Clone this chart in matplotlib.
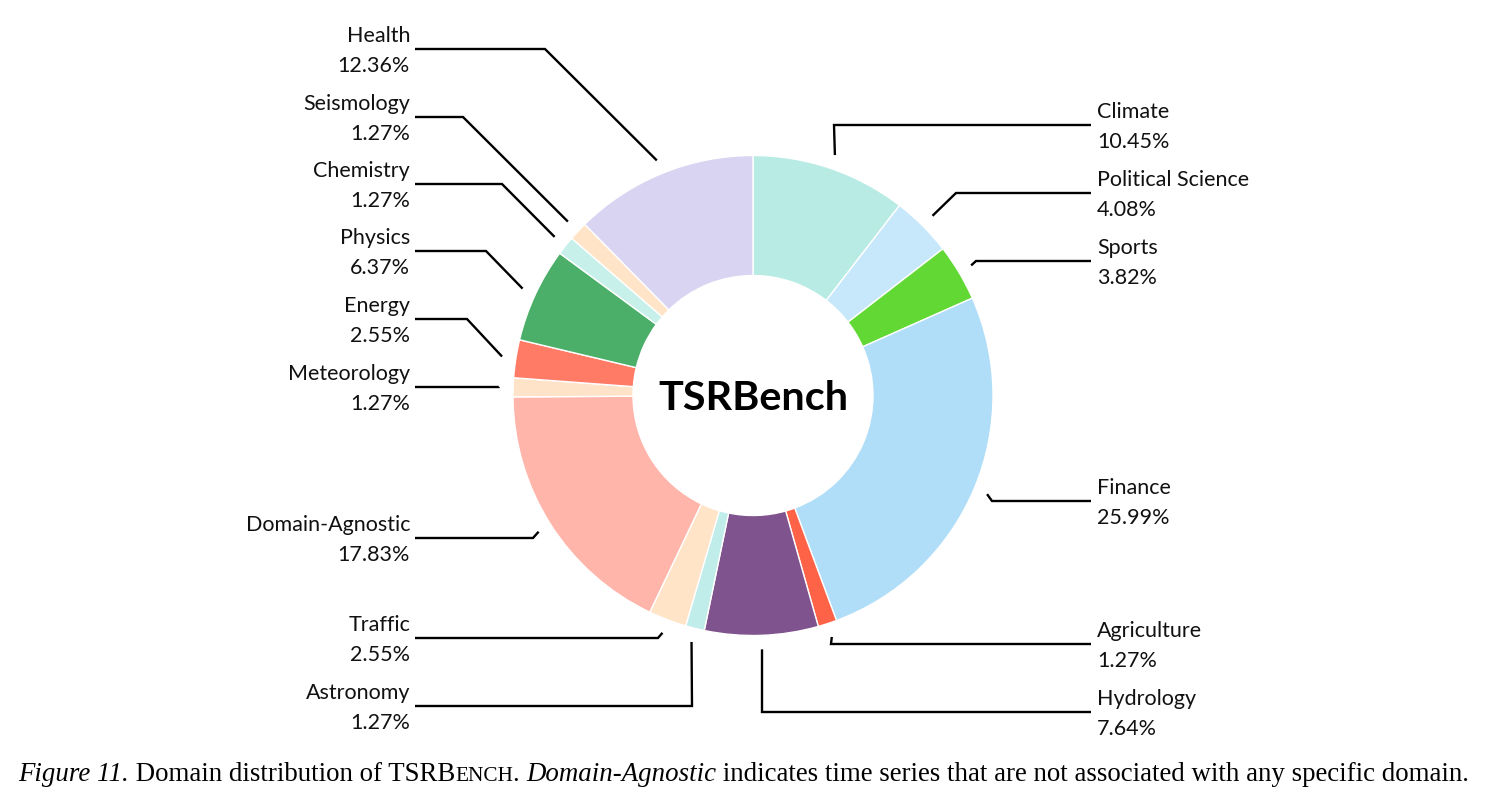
import matplotlib
matplotlib.use("Agg")
import matplotlib.pyplot as plt
import numpy as np

# ── Data ──────────────────────────────────────────────────────────────
DOMAINS = ["Climate", "Political Science", "Sports", "Finance", "Agriculture",
           "Hydrology", "Astronomy", "Traffic", "Domain-Agnostic", "Meteorology",
           "Energy", "Physics", "Chemistry", "Seismology", "Health"]
SHARES = [10.45, 4.08, 3.82, 25.99, 1.27,
          7.64, 1.27, 2.55, 17.83, 1.27,
          2.55, 6.37, 1.27, 1.27, 12.36]
COLORS = ["#b8ebe4", "#c7e7fa", "#62d835", "#b0ddf7", "#ff6347",
          "#7f538e", "#c0ecea", "#ffe4c8", "#ffb5aa", "#ffe3c8",
          "#ff7b66", "#4caf69", "#c8f0ea", "#ffe4c8", "#d8d4f1"]

# ── Layout (pixels, y measured from top) ─────────────────────────────
W, H = 1491, 803
CX, CY = 753, 396.5
R_OUT, R_IN, R_LINE = 240, 120, 254
# knee x of each leader line and the y where its label sits
KNEE_X = [834, 956, 976, 992, 831, 762, 692, 658, 533, 499,
          467, 486, 502, 463, 545]
LABEL_Y = [126, 194, 262, 502, 645, 713, 707, 639, 539, 388,
           320, 252, 185, 118, 50]
RIGHT_END, LEFT_END = 1091, 415
LABEL_FONT = ["Lato", "DejaVu Sans"]


def Y(py):
    return H - py


fig = plt.figure(figsize=(W / 100, H / 100), dpi=100)
ax = fig.add_axes([0, 0, 1, 1])

wedges, _ = ax.pie(SHARES, colors=COLORS, startangle=90, counterclock=False,
                   center=(CX, Y(CY)), radius=R_OUT,
                   wedgeprops=dict(width=R_OUT - R_IN, edgecolor="white", linewidth=1.0))

ax.set_xlim(0, W)
ax.set_ylim(0, H)
ax.set_aspect("equal")
ax.axis("off")

# Leader lines + labels
for i, (w, name, share) in enumerate(zip(wedges, DOMAINS, SHARES)):
    mid = np.deg2rad((w.theta1 + w.theta2) / 2)
    sx = CX + R_LINE * np.cos(mid)
    sy = Y(CY) + R_LINE * np.sin(mid)
    ly = Y(LABEL_Y[i])
    right = i < 6
    ex = RIGHT_END if right else LEFT_END
    ax.plot([sx, KNEE_X[i], ex], [sy, ly, ly], color="black", lw=1.7,
            solid_joinstyle="miter", solid_capstyle="butt", zorder=3)
    tx = ex + 6 if right else ex - 5
    ha = "left" if right else "right"
    ax.text(tx, ly + 8, name, ha=ha, va="baseline", fontsize=15.5,
            family=LABEL_FONT, color="#111111")
    ax.text(tx, ly - 22, f"{share:.2f}%", ha=ha, va="baseline", fontsize=15.5,
            family=LABEL_FONT, color="#111111")

# Centre title
ax.text(CX, Y(410), "TSRBench", ha="center", va="baseline", fontsize=29.8,
        fontweight="bold", family=LABEL_FONT, color="black")

# Caption, laid out piece by piece (small caps for TSRBench)
CAPTION = [
    ("Figure 11.", "italic", 19.4),
    (" Domain distribution of TSRB", "normal", 19.4),
    ("ENCH", "normal", 15.3),
    (". ", "normal", 19.4),
    ("Domain-Agnostic", "italic", 19.4),
    (" indicates time series that are not associated with any specific domain.", "normal", 19.4),
]
renderer = fig.canvas.get_renderer()
x = 18
for txt, style, size in CAPTION:
    t = ax.text(x, Y(781), txt, ha="left", va="baseline", fontsize=size,
                family="Liberation Serif", style=style, color="black")
    bb = t.get_window_extent(renderer)
    x += bb.width

fig.savefig("out.png", dpi=100, facecolor="white")
